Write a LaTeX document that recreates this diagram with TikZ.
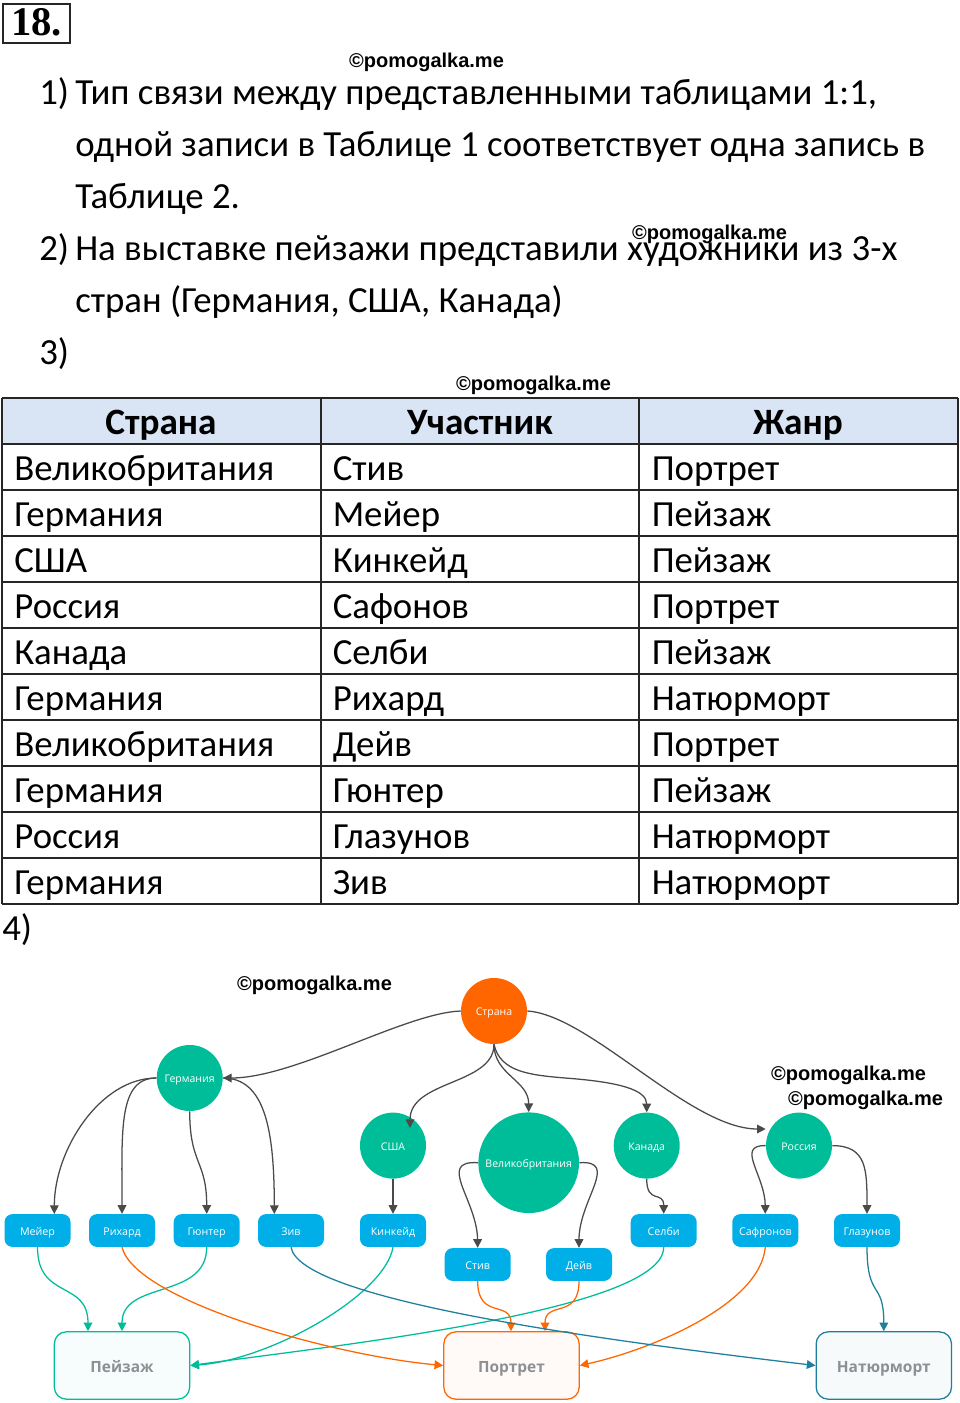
\documentclass[tikz,border=0pt]{standalone}
\usepackage{fontspec}
\setmainfont{Carlito}
\newfontfamily\serifbold{Liberation Serif}
\newfontfamily\wmfont{Liberation Sans}
\newfontfamily\dgfont{Open Sans}
\usetikzlibrary{arrows.meta}
\definecolor{cgreen}{HTML}{00BD9A}
\definecolor{corange}{HTML}{FF6600}
\definecolor{cblue}{HTML}{00AEE8}
\definecolor{cdark}{HTML}{4A4A4A}
\definecolor{cteal}{HTML}{1F7F9E}
\definecolor{chead}{HTML}{D9E5F5}
\definecolor{cgraytext}{HTML}{8C9094}
\tikzset{
  x=0.75pt,y=-0.75pt,
  body/.style={anchor=base west,inner sep=0pt,font=\fontsize{27.6}{27.6}\selectfont},
  cell/.style={anchor=base west,inner sep=0pt,font=\fontsize{27.6}{27.6}\selectfont},
  headcell/.style={anchor=base,inner sep=0pt,font=\fontsize{27.9}{27.9}\selectfont\bfseries},
  wm/.style={inner sep=0pt,font=\wmfont\fontsize{15}{15}\selectfont\bfseries},
  country/.style={circle,fill=cgreen,text=white,inner sep=0pt,minimum size=49.5pt,text height=7.2pt,text depth=0pt,font=\dgfont\fontsize{7.9}{8}\selectfont},
  person/.style={rounded corners=6pt,fill=cblue,text=white,inner sep=0pt,minimum width=49.5pt,minimum height=24.6pt,text height=7.2pt,text depth=0pt,font=\dgfont\fontsize{8}{8}\selectfont},
  genre/.style={rounded corners=9pt,line width=0.95pt,inner sep=0pt,minimum width=101.5pt,minimum height=50.5pt,text height=10.8pt,text depth=0pt,text=cgraytext,font=\dgfont\fontsize{11.6}{12}\selectfont\bfseries},
  link/.style={line width=0.95pt,-{Triangle[length=6.5pt,width=6.5pt]}},
  dk/.style={link,draw=cdark,color=cdark},
  gr/.style={link,draw=cgreen,color=cgreen},
  og/.style={link,draw=corange,color=corange},
  tl/.style={link,draw=cteal,color=cteal},
  grid/.style={line width=1.1pt,draw=black!85}
}
\begin{document}
\begin{tikzpicture}
\useasboundingbox (0,0) rectangle (960,1403);
\fill[white] (0,0) rectangle (960,1403);
% title
\draw[line width=2.1pt,draw=black!85] (3,4) rectangle (70,43);
\node[inner sep=0pt,anchor=base,font=\serifbold\fontsize{30.5}{30.5}\selectfont\bfseries] (ttl) at (36.5,35) {18.};
% body
\node[body] (n1) at (39,104) {1)};
\node[body] (l1) at (75,104) {Тип связи между представленными таблицами 1:1,};
\node[body] (l2) at (75,156) {одной записи в Таблице 1 соответствует одна запись в};
\node[body] (l3) at (75,208) {Таблице 2.};
\node[body] (n2) at (39,260) {2)};
\node[body] (l4) at (75,260) {На выставке пейзажи представили художники из 3-х};
\node[body] (l5) at (75,312) {стран (Германия, США, Канада)};
\node[body] (n3) at (39,364) {3)};
\node[body] (n4) at (2,940) {4)};
% table
\fill[chead] (2,398) rectangle (958,444);
\foreach \yy in {398,444,490,536,582,628,674,720,766,812,858,904}{
  \draw[grid] (2,\yy) -- (958,\yy);
}
\foreach \xx in {2,321,639,958}{
  \draw[grid] (\xx,398) -- (\xx,904);
}
\node[headcell] (h1) at (161,434) {Страна};
\node[headcell] (h2) at (480,434) {Участник};
\node[headcell] (h3) at (798,434) {Жанр};
\foreach \yy/\aa/\bb/\cc in {
 480/Великобритания/Стив/Портрет,
 526/Германия/Мейер/Пейзаж,
 572/США/Кинкейд/Пейзаж,
 618/Россия/Сафонов/Портрет,
 664/Канада/Селби/Пейзаж,
 710/Германия/Рихард/Натюрморт,
 756/Великобритания/Дейв/Портрет,
 802/Германия/Гюнтер/Пейзаж,
 848/Россия/Глазунов/Натюрморт,
 894/Германия/Зив/Натюрморт}{
  \node[cell] (a\yy) at (14,\yy) {\aa};
  \node[cell] (b\yy) at (332.5,\yy) {\bb};
  \node[cell] (c\yy) at (651.5,\yy) {\cc};
}
% diagram nodes
\node[country,fill=corange] (str) at (494,1011) {Страна};
\node[country] (ge) at (189.7,1078) {Германия};
\node[country] (us) at (393,1145.6) {США};
\node[country,minimum size=75.5pt] (uk) at (528.7,1162.7) {Великобритания};
\node[country] (ca) at (646.7,1145.6) {Канада};
\node[country] (ru) at (799,1145.6) {Россия};
\node[person] (me) at (37.5,1230.5) {Мейер};
\node[person] (ri) at (122,1230.5) {Рихард};
\node[person] (gu) at (206.7,1230.5) {Гюнтер};
\node[person] (zi) at (291,1230.5) {Зив};
\node[person] (ki) at (393,1230.5) {Кинкейд};
\node[person] (st) at (477.7,1264.5) {Стив};
\node[person] (de) at (579,1264.5) {Дейв};
\node[person] (se) at (663.7,1230.5) {Селби};
\node[person] (sa) at (765.3,1230.5) {Сафронов};
\node[person] (gl) at (867,1230.5) {Глазунов};
\node[genre,draw=cgreen,fill=cgreen!3] (pe) at (122,1365.5) {Пейзаж};
\node[genre,draw=corange,fill=corange!3] (po) at (511.5,1365.5) {Портрет};
\node[genre,draw=cteal,fill=cteal!4] (na) at (883.8,1365.5) {Натюрморт};
% free ends
\coordinate (usin) at (410,1128);
\coordinate (ruin) at (765.7,1129);
\coordinate (mein) at (54.3,1214);
\coordinate (ziin) at (274.3,1214);
\coordinate (pea) at (88,1331.2);
\coordinate (peb) at (122,1331.2);
\coordinate (poa) at (511,1331.2);
\coordinate (pob) at (545,1331.2);
% dark links
\draw[dk] (str.west) .. controls (405,1013) and (295,1078) .. (ge.east);
\draw[dk] (str.south) .. controls (494,1085) and (410,1080) .. (usin);
\draw[dk] (str.south) .. controls (494,1075) and (528.7,1080) .. (uk.north);
\draw[dk] (str.south) .. controls (500,1072) and (530,1075) .. (565,1078) .. controls (620,1082) and (646.7,1090) .. (ca.north);
\draw[dk] (str.east) .. controls (590,1015) and (690,1129) .. (ruin);
\draw[dk] (ge.west) .. controls (100,1078) and (54.3,1150) .. (mein);
\draw[dk] (ge.west) .. controls (118,1078) and (122,1130) .. (ri.north);
\draw[dk] (ge.south) .. controls (189.7,1165) and (206.7,1160) .. (gu.north);
\draw[dk] (ge.east) .. controls (265,1078) and (274.3,1130) .. (ziin);
\draw[dk] (us.south) -- (ki.north);
\draw[dk] (uk.west) .. controls (436,1160) and (477,1200) .. (st.north);
\draw[dk] (uk.east) .. controls (620,1160) and (579,1200) .. (de.north);
\draw[dk] (ca.south) .. controls (646.7,1205) and (663.7,1190) .. (se.north);
\draw[dk] (ru.west) .. controls (735,1145) and (765,1175) .. (sa.north);
\draw[dk] (ru.east) .. controls (867,1145.6) and (867,1170) .. (gl.north);
% lower links
\draw[gr] (me.south) .. controls (37.5,1300) and (88,1280) .. (pea);
\draw[gr] (gu.south) .. controls (206.7,1300) and (122,1280) .. (peb);
\draw[gr] (ki.south) .. controls (385,1295) and (270,1360) .. (pe.east);
\draw[gr] (se.south) .. controls (663.7,1310) and (340,1345) .. (pe.east);
\draw[og] (ri.south) .. controls (135,1300) and (330,1355) .. (po.west);
\draw[og] (st.south) .. controls (477.7,1320) and (511,1300) .. (poa);
\draw[og] (de.south) .. controls (579,1320) and (545,1300) .. (pob);
\draw[og] (sa.south) .. controls (760,1305) and (650,1350) .. (po.east);
\draw[tl] (zi.south) .. controls (300,1300) and (600,1340) .. (na.west);
\draw[tl] (gl.south) .. controls (867,1300) and (883.8,1280) .. (na.north);
% watermarks
\node[wm] (w1) at (426.5,62) {©pomogalka.me};
\node[wm] (w2) at (709.5,234) {©pomogalka.me};
\node[wm] (w3) at (533.5,385) {©pomogalka.me};
\node[wm] (w4) at (314.5,985) {©pomogalka.me};
\node[wm] (w5) at (848.5,1075) {©pomogalka.me};
\node[wm] (w6) at (865.5,1100) {©pomogalka.me};
\end{tikzpicture}
\end{document}
